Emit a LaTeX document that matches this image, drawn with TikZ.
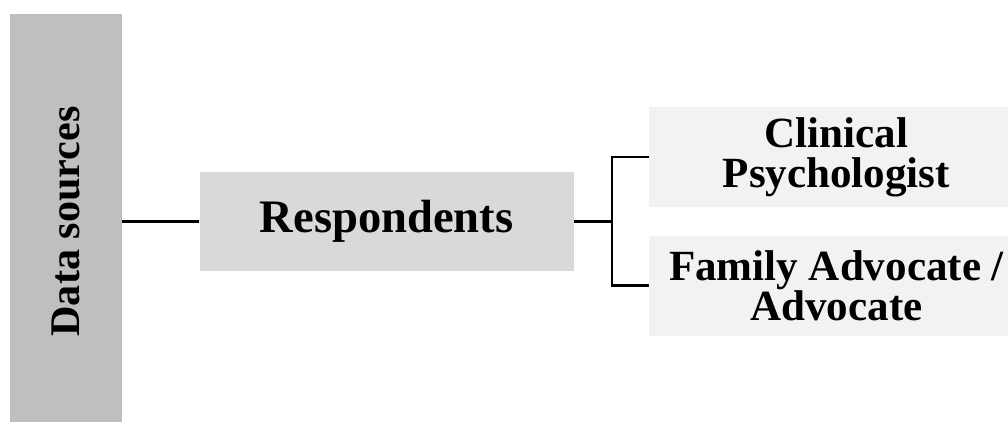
\documentclass[tikz,border=0pt]{standalone}
\usepackage{fontspec}
\setmainfont{Liberation Serif}
\usetikzlibrary{positioning}

\begin{document}
\begin{tikzpicture}[
        srcbar/.style = {rectangle, fill=black!25, minimum width=2.24cm, minimum height=8.3cm, inner sep=0pt,
                         font=\fontsize{24}{26}\selectfont\bfseries},
        respbox/.style = {rectangle, fill=black!15, minimum width=7.48cm, minimum height=1.98cm, inner sep=0pt,
                          font=\fontsize{26.5}{28}\selectfont\bfseries},
        rolebox/.style = {rectangle, fill=black!5, minimum width=7.48cm, minimum height=2cm, inner sep=0pt,
                          align=center, font=\fontsize{24.5}{22.8}\selectfont\bfseries},
        link/.style = {draw=black, line width=1.5pt}
    ]
    \useasboundingbox (0,0) rectangle (20.16,8.44);

    \node[srcbar] (src) at (1.32,4.01) {\rotatebox{90}{Data sources}};
    \node[respbox] (resp) [right=1.54cm of src] {Respondents};
    \node[rolebox] (psych) [right=1.5cm of resp, yshift=1.29cm] {Clinical\\Psychologist};
    \node[rolebox] (advoc) [below=0.56cm of psych] {Family Advocate /\\Advocate};

    \coordinate[right=0.76cm of resp] (fork);

    \path[link] (src) -- (resp);
    \path[link] (resp) -- (fork);
    \path[link] (psych.west) -| (fork) |- (advoc.west);
\end{tikzpicture}
\end{document}
